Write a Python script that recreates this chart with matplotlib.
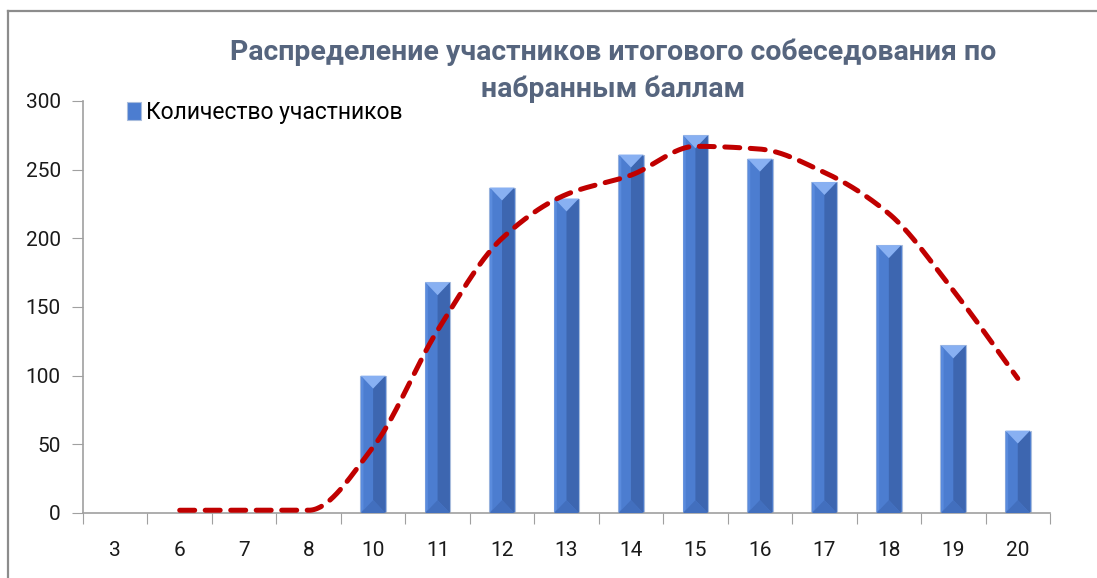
import numpy as np
import matplotlib
matplotlib.use("Agg")
import matplotlib.pyplot as plt
from matplotlib.patches import Polygon
from matplotlib.lines import Line2D

plt.rcParams['font.family'] = ['Roboto', 'DejaVu Sans']

categories = ['3', '6', '7', '8', '10', '11', '12', '13', '14', '15', '16', '17', '18', '19', '20']
participants = [0, 0, 0, 0, 100, 168, 237, 229, 261, 275, 258, 241, 195, 122, 60]
# smoothed dashed line (starts at category "6")
trend = [np.nan, 2, 2, 2, 48, 133, 200, 232, 246, 267, 265, 248, 218, 162, 98]

title_lines = ['Распределение участников итогового собеседования по', 'набранным баллам']
legend_label = 'Количество участников'

W, H = 1097, 578
fig = plt.figure(figsize=(W / 100, H / 100), dpi=100)
fig.patch.set_facecolor('white')
ax = fig.add_axes([83 / W, 1 - 513 / H, (1050 - 83) / W, (513 - 101) / H])

x = np.arange(len(categories))
bw = 0.4
base = '#4C7DD0'
dark = '#3D66B0'
light = '#88B0F2'

ppu_y = (513 - 101) / 300.0
ppu_x = (1050 - 83) / 15.0

bars = ax.bar(x, participants, width=bw, color=base, edgecolor='#A9BDDD', linewidth=0.8, zorder=2,
              label=legend_label)
for xi, v in zip(x, participants):
    if v <= 0:
        continue
    bev = (bw / 2 * ppu_x) / ppu_y
    bev = min(bev, v / 2)
    ax.add_patch(Polygon([[xi, bev], [xi, v - bev], [xi + bw / 2 - 0.01, v], [xi + bw / 2 - 0.01, 0]],
                         closed=True, facecolor=dark, edgecolor='none', zorder=3))
    ax.add_patch(Polygon([[xi - bw / 2 + 0.01, 0], [xi - bw / 2 + 0.01, v], [xi - bw / 2 + 0.05, v - bev * 0.3],
                          [xi - bw / 2 + 0.05, bev * 0.3]],
                         closed=True, facecolor='#5A8BDD', edgecolor='none', zorder=3))
    ax.add_patch(Polygon([[xi - bw / 2 + 0.01, v], [xi + bw / 2 - 0.01, v], [xi, v - bev]], closed=True,
                         facecolor=light, edgecolor='none', zorder=4))
    ax.add_patch(Polygon([[xi - bw / 2 + 0.01, 0], [xi + bw / 2 - 0.01, 0], [xi, bev]], closed=True,
                         facecolor='#426FBE', edgecolor='none', zorder=3))


def monotone_curve(px, py, n=40):
    px = np.asarray(px, float)
    py = np.asarray(py, float)
    h = np.diff(px)
    d = np.diff(py) / h
    m = np.zeros_like(py)
    m[0] = d[0]
    m[-1] = d[-1]
    for i in range(1, len(py) - 1):
        if d[i - 1] * d[i] <= 0:
            m[i] = 0.0
        else:
            w1 = 2 * h[i] + h[i - 1]
            w2 = h[i] + 2 * h[i - 1]
            m[i] = (w1 + w2) / (w1 / d[i - 1] + w2 / d[i])
    xs, ys = [], []
    for i in range(len(px) - 1):
        t = np.linspace(0, 1, n)
        if i > 0:
            t = t[1:]
        h00 = 2 * t ** 3 - 3 * t ** 2 + 1
        h10 = t ** 3 - 2 * t ** 2 + t
        h01 = -2 * t ** 3 + 3 * t ** 2
        h11 = t ** 3 - t ** 2
        xs.append(px[i] + t * h[i])
        ys.append(h00 * py[i] + h10 * h[i] * m[i] + h01 * py[i + 1] + h11 * h[i] * m[i + 1])
    return np.concatenate(xs), np.concatenate(ys)


tr = np.array(trend, float)
mask = ~np.isnan(tr)
sx, sy = monotone_curve(x[mask], tr[mask])
ax.plot(sx, sy, color='#C00000', lw=3.6, ls=(0, (3.0, 2.1)), dash_capstyle='round', zorder=5)

ax.set_xlim(-0.5, len(categories) - 0.5)
ax.set_ylim(0, 300)
ax.set_yticks(np.arange(0, 301, 50))
ax.tick_params(axis='y', direction='out', length=8, color='#A0A0A0', labelsize=15, pad=8,
               labelcolor='#1A1A1A')
ax.set_xticks(np.arange(-0.5, len(categories), 1.0))
ax.set_xticklabels([])
ax.tick_params(axis='x', which='major', direction='out', length=8, color='#A0A0A0')
ax.set_xticks(x, minor=True)
ax.set_xticklabels(categories, minor=True)
ax.tick_params(axis='x', which='minor', length=0, labelsize=15, pad=20, labelcolor='#1A1A1A')

for s in ['top', 'right']:
    ax.spines[s].set_visible(False)
for s in ['left', 'bottom']:
    ax.spines[s].set_color('#A0A0A0')
    ax.spines[s].set_linewidth(1.2)

leg = ax.legend(loc='upper left', bbox_to_anchor=(0.036, 1.022), frameon=False, fontsize=16.5,
                handlelength=0.6, handleheight=0.8, handletextpad=0.25, borderaxespad=0)

fig.text(613 / W, 1 - 52 / H, title_lines[0], ha='center', va='center', fontsize=20.5, fontweight='bold',
         color='#56657E')
fig.text(613 / W, 1 - 89 / H, title_lines[1], ha='center', va='center', fontsize=20.5, fontweight='bold',
         color='#56657E')

# outer frame (top and left)
fig.add_artist(Line2D([8 / W, 1], [1 - 11 / H, 1 - 11 / H], color='#8C8C8C', lw=1.6, transform=fig.transFigure))
fig.add_artist(Line2D([8 / W, 8 / W], [0, 1 - 11 / H], color='#8C8C8C', lw=1.6, transform=fig.transFigure))

fig.savefig('out.png', dpi=100, facecolor='white')
